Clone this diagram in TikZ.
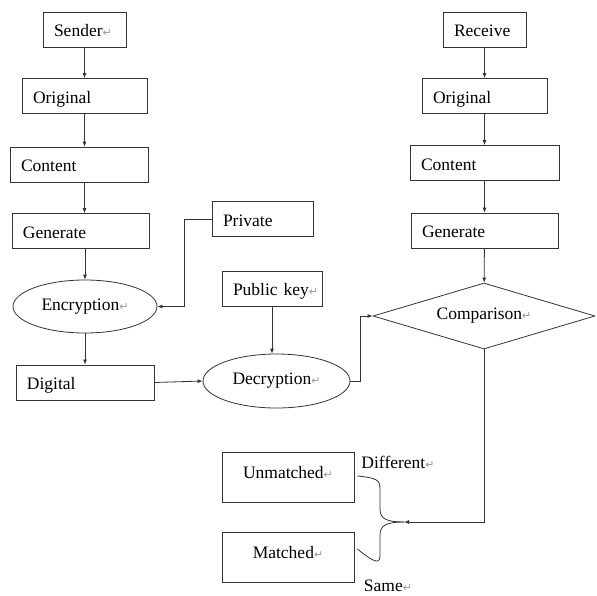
\documentclass[tikz,border=0pt]{standalone}
\usepackage{fontspec}
\setmainfont{Liberation Serif}
\newfontfamily\symfont{DejaVu Sans}
\usetikzlibrary{arrows.meta,shapes.geometric}
\newcommand\pmark{{\symfont\color{black!40}\fontsize{11}{11}\selectfont ↵}}

\tikzset{
  box/.style={draw=black!80, line width=0.8pt, rectangle, inner xsep=11pt, inner ysep=0pt,
    minimum height=35pt, align=left, text height=14.6pt, text depth=0pt},
  oval/.style={draw=black!80, line width=0.8pt, ellipse, inner sep=0pt,
    minimum width=146pt, minimum height=54pt},
  result/.style={draw=black!80, line width=0.8pt, rectangle, inner sep=0pt,
    text width=132pt, align=center, text height=26pt, text depth=24pt},
  arr/.style={-{Latex[length=5pt,width=4pt]}, draw=black!80, line width=0.8pt},
  link/.style={draw=black!80, line width=0.8pt},
}

\begin{document}
\begin{tikzpicture}[x=1pt,y=-1pt,font=\fontsize{17.5}{20}\selectfont]
\useasboundingbox (0,0) rectangle (597,595);

% sender side
\node[box, text width=61pt]  (sender) at (84.5,29.5) {Sender\pmark};
\node[box, text width=103pt] (orig1)  at (84.5,96)   {Original};
\node[box, text width=116pt] (cont1)  at (79,164.5)  {Content};
\node[box, text width=115pt] (gen1)   at (80.5,231)  {Generate};
\node[box, text width=79pt]  (private) at (262.5,219) {Private};
\node[oval, minimum width=144pt, minimum height=53pt] (enc) at (85,306.5) {Encryption\pmark};
\node[box, text width=116pt] (digital) at (85,382.5) {Digital};

\draw[arr] (sender) -- (sender |- orig1.north);
\draw[arr] (orig1) -- (orig1 |- cont1.north);
\draw[arr] (cont1.south -| orig1) -- (orig1 |- gen1.north);
\draw[arr] (gen1.south -| enc) -- (enc);
\draw[arr] (private.west) -- ++(-27,0) |- (enc.east);
\draw[arr] (enc) -- (enc |- digital.north);

% decryption
\node[box, text width=78pt] (pubkey) at (272,288.5) {\mbox{Public key\pmark}};
\node[oval, minimum width=147pt] (dec) at (276.5,381) {Decryption\pmark};

\draw[arr] (digital.east) -- (dec.west);
\draw[arr] (pubkey) -- (pubkey |- dec.north);

% receiver side
\node[box, text width=61pt]  (receive) at (484.5,29.5) {Receive};
\node[box, text width=103pt] (orig2)   at (484.5,96)   {Original};
\node[box, text width=127pt] (cont2)   at (484.5,163)  {Content};
\node[box, text width=125pt] (gen2)    at (484.5,230.5) {Generate};
\node[draw=black!80, line width=0.8pt, diamond, aspect=3.36, inner sep=0pt,
  minimum width=222pt, minimum height=66pt] (comp) at (484,316) {Comparison\pmark};

\draw[arr] (receive) -- (orig2);
\draw[arr] (orig2) -- (cont2);
\draw[arr] (cont2) -- (gen2);
\draw[arr] (gen2) -- (comp);
\draw[arr] (dec.east) -- ++(10,0) |- (comp.west);

% result
\node[result] (unmatched) at (288,477) {Unmatched\pmark};
\node[result] (matched)   at (288,557) {Matched\pmark};
\node (diff) at (398,462) {Different\pmark};
\node (same) at (388,586) {Same\pmark};
\coordinate (tip) at (404,522);

\draw[arr] (comp.south) |- (tip);
\draw[link] (tip) .. controls (387,522) and (380,519) .. (380,509) -- (380,489)
  .. controls (380,480) and (377,478) .. ([xshift=3pt,yshift=1pt]unmatched.east);
\draw[link] (tip) .. controls (387,522) and (380,525) .. (380,535) -- (380,555)
  .. controls (380,563) and (377,565) .. ([xshift=3pt,yshift=8pt]matched.east);

\end{tikzpicture}
\end{document}
